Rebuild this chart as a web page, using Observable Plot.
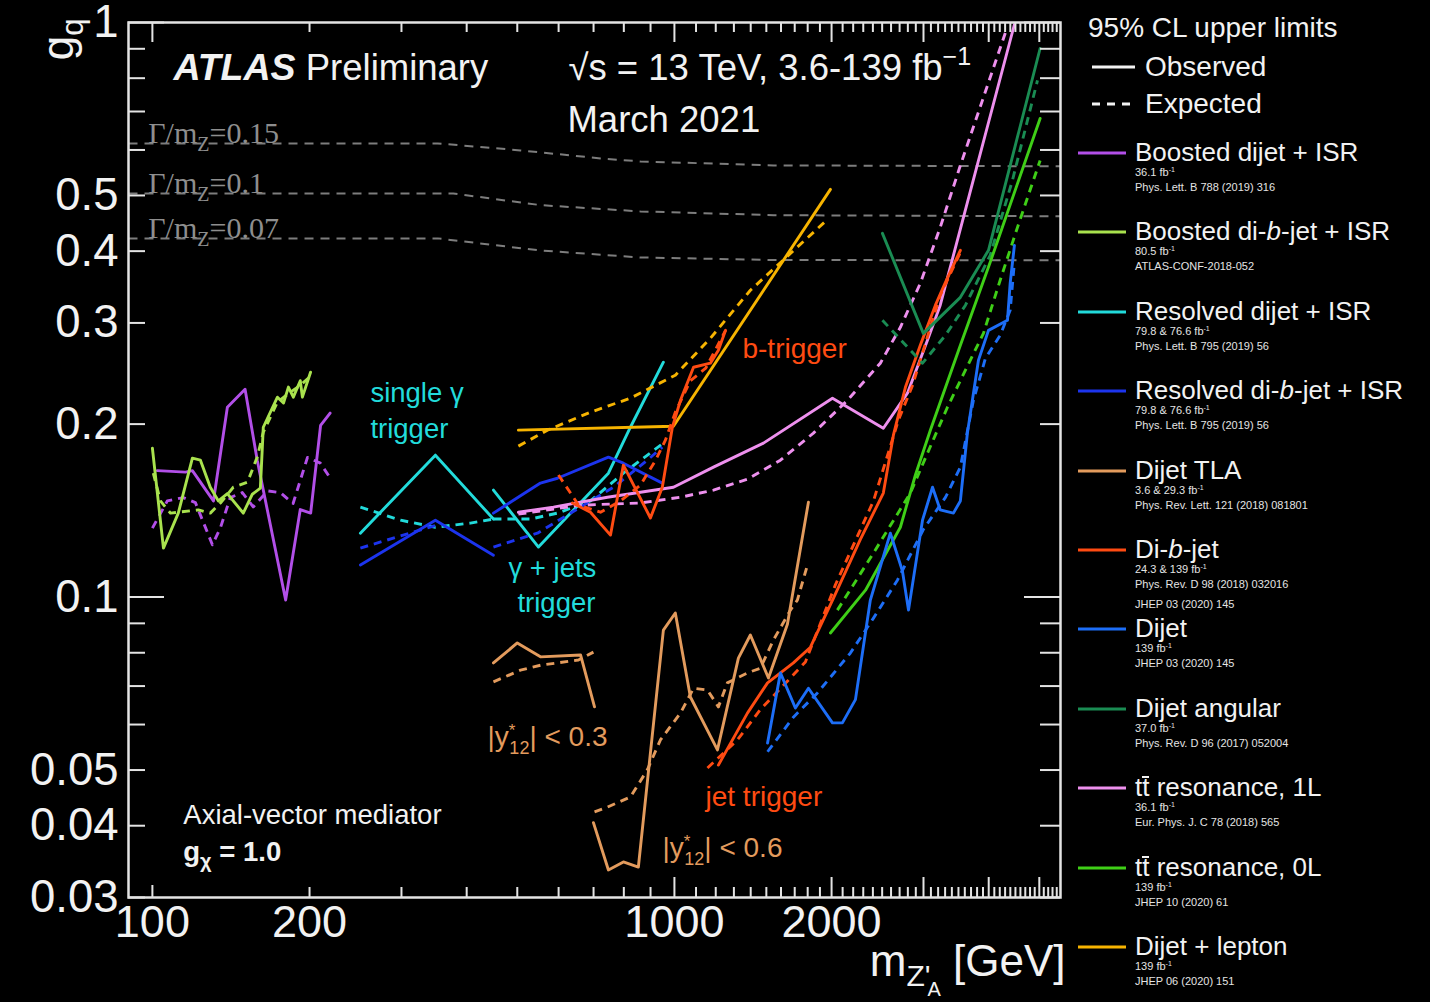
<!DOCTYPE html>
<html><head><meta charset="utf-8">
<script src="https://cdn.jsdelivr.net/npm/d3@7"></script>
<script src="https://cdn.jsdelivr.net/npm/@observablehq/plot@0.6"></script>
<style>
html,body{margin:0;padding:0;background:#000;}
#wrap{position:relative;width:1430px;height:1002px;background:#000;font-family:"Liberation Sans",Arial,Helvetica,sans-serif;color:#fff;overflow:hidden;}
#chart{position:absolute;left:0;top:0;}
#legend{position:absolute;left:1075px;top:0;width:355px;height:1002px;}
.hdr{position:absolute;font-size:28px;line-height:30px;white-space:nowrap;color:#f2f2f2;}
.ttl{position:absolute;left:60px;font-size:26px;line-height:26px;white-space:nowrap;color:#f2f2f2;}
.sub{position:absolute;left:60px;font-size:11px;line-height:12px;white-space:nowrap;color:#e4e4e4;}
.sp{font-size:7px;position:relative;top:-4px;}
.smp{position:absolute;left:3px;}
.ov{display:inline-block;border-top:2px solid #f2f2f2;line-height:19px;}
</style></head>
<body><div id="wrap"><div id="chart"></div><div id="legend"></div></div>
<script>
// ---------------- data: [m_Z' (GeV), g_q] ----------------
const boostedDijetObs = [[102.2,0.166],[115.7,0.165],[119.3,0.166],[130.9,0.147],[139.2,0.214],[150.5,0.230],[158.8,0.173],[180,0.0988],[192,0.142],[201,0.140],[210,0.199],[219,0.209]];
const boostedDijetExp = [[100,0.1318],[106.8,0.147],[114.6,0.149],[120.9,0.146],[130.3,0.1233],[135,0.132],[141,0.149],[148.7,0.152],[156,0.1435],[166.2,0.153],[175.9,0.152],[186,0.1455],[198.2,0.175],[209.8,0.171],[219.2,0.161]];

const boostedDibjetObs = [[100,0.1816],[105,0.1217],[112.1,0.140],[119.3,0.1745],[123.6,0.1731],[129.1,0.1553],[133.8,0.147],[139.2,0.1514],[149.3,0.140],[155.4,0.151],[161,0.1547],[163.1,0.1975],[173.6,0.2228],[178.3,0.2176],[182.2,0.232],[186.2,0.2228],[192,0.238],[193.8,0.2228],[200.9,0.2462]];
const boostedDibjetExp = [[100.4,0.1643],[103.6,0.147],[108.3,0.140],[122.5,0.1418],[129.1,0.140],[135,0.1458],[142.9,0.1553],[152.1,0.1585],[158.8,0.1752],[163.1,0.1936],[173.6,0.2184],[183.8,0.2273],[192,0.2337],[200.9,0.2423]];

const resolvedDijetObsPhoton = [[250.3,0.1292],[348.4,0.1766],[450.1,0.1367]];
const resolvedDijetObsGammaJets = [[450.1,0.1535],[549,0.1222],[747.4,0.1643],[823.6,0.1975],[952.5,0.2563]];
const resolvedDijetExpPhoton = [[250.3,0.1434],[298.7,0.1361],[348.4,0.1323],[406.6,0.1345],[450.1,0.1367]];
const resolvedDijetExpGammaJets = [[450.1,0.1367],[529.9,0.1367],[597,0.140],[690.5,0.147],[798.4,0.1643],[952.5,0.1853]];

const resolvedDibjetObsPhoton = [[250.3,0.1137],[348.4,0.1361],[450.1,0.1183]];
const resolvedDibjetObsGammaJets = [[450.1,0.140],[553.9,0.1579],[597,0.161],[747.4,0.1752],[798.4,0.171],[948,0.1579]];
const resolvedDibjetExpPhoton = [[250.3,0.1217],[356.2,0.134]];
const resolvedDibjetExpGammaJets = [[450.1,0.1222],[546.5,0.1292],[660.6,0.1434],[764.2,0.1553],[887.7,0.1731],[948,0.1824]];

const tlaObsY03 = [[450.1,0.0768],[500,0.0832],[553.9,0.0787],[661,0.0793],[703,0.0644]];
const tlaObsY06 = [[699.6,0.0405],[747.4,0.0335],[798.4,0.0346],[853,0.0339],[952.5,0.0876],[1004,0.0938],[1073,0.067],[1209,0.0542],[1326,0.0783],[1398,0.0859],[1514,0.0723],[1646,0.0897],[1806,0.1463]];
const tlaExpY03 = [[450.1,0.0712],[507,0.0746],[553.9,0.0761],[654.8,0.0777],[699.6,0.0802]];
const tlaExpY06 = [[703,0.0423],[744,0.0431],[824,0.0449],[888,0.0501],[940,0.0564],[1027,0.0628],[1088,0.0694],[1157,0.0689],[1214,0.0644],[1263,0.0709],[1380,0.0738],[1461,0.0752],[1548,0.0842],[1668,0.0949],[1720,0.0988],[1798,0.1137]];

const dibjetObsBTrig = [[637.8,0.1458],[690.5,0.1405],[754.3,0.1282],[798.4,0.1697],[899.6,0.1373],[948,0.1553],[991,0.1975],[1027,0.220],[1088,0.2512],[1172,0.2553],[1214,0.2689],[1253,0.2912]];
const dibjetObsJetTrig = [[1214,0.0510],[1380,0.0628],[1508,0.0709],[1690,0.0768],[1822,0.0818],[2017,0.0996],[2271,0.126],[2513,0.1517],[2627,0.1913],[2770,0.2318],[2958,0.2744],[3162,0.3221],[3305,0.353],[3530,0.4014]];
const dibjetExpBTrig = [[599.6,0.1631],[655.4,0.1445],[721.8,0.1405],[788,0.147],[860.7,0.1566],[920.4,0.1731],[961,0.1875],[1004,0.2098],[1073,0.238],[1148,0.2502],[1253,0.2912]];
const dibjetExpJetTrig = [[1157,0.0504],[1320,0.0564],[1461,0.0637],[1668,0.0723],[1782,0.0771],[2034,0.105],[2406,0.147],[2686,0.2033],[2858,0.2335],[3230,0.3351],[3530,0.3981]];

const dijetObs = [[1508,0.0557],[1596,0.0738],[1705,0.0641],[1806,0.0694],[2008,0.0604],[2098,0.0604],[2222,0.0663],[2373,0.0988],[2592,0.1292],[2734,0.111],[2808,0.0949],[2987,0.1361],[3122,0.1553],[3230,0.1418],[3423,0.140],[3530,0.147],[3641,0.1929],[3823,0.2583],[3996,0.2912],[4345,0.3032],[4397,0.3516],[4480,0.4094]];
const dijetExp = [[1508,0.0538],[1690,0.0618],[1879,0.0681],[2173,0.0799],[2406,0.0919],[2674,0.107],[2998,0.1311],[3305,0.1491],[3530,0.1683],[3739,0.22],[3943,0.2604],[4207,0.2855],[4397,0.3156],[4480,0.3825]];

const angularObs = [[2503,0.4296],[2998,0.2877],[3530,0.3324],[3996,0.4014],[5018,0.9011]];
const angularExp = [[2503,0.3032],[2987,0.2553],[3305,0.2855],[3610,0.3221],[4026,0.3934],[4441,0.531],[4960,0.793]];

const ttbar1LObs = [[502.5,0.1405],[586.5,0.1434],[744,0.1492],[995.6,0.1553],[1188,0.1683],[1481,0.1853],[2008,0.2219],[2513,0.1967],[2795,0.2264],[3053,0.28],[3230,0.3221],[4480,0.992]];
const ttbar1LExp = [[502.5,0.1394],[661,0.1445],[860.7,0.1458],[1027,0.1492],[1188,0.1535],[1380,0.1604],[1596,0.1731],[1846,0.1929],[2145,0.22],[2480,0.2553],[2709,0.2948],[2958,0.3516],[3230,0.44],[3530,0.564],[3891,0.732],[4307,0.961]];

const ttbar0LObs = [[1990,0.0866],[2323,0.1028],[2709,0.1323],[2895,0.1631],[3091,0.195],[3530,0.2744],[4026,0.3825],[5018,0.6808]];
const ttbar0LExp = [[2052,0.0949],[2406,0.1193],[2831,0.1517],[3053,0.178],[3334,0.214],[3687,0.2583],[3908,0.2877],[4207,0.356],[4541,0.44],[5018,0.5754]];

const leptonObs = [[502.5,0.1952],[995.6,0.1983],[1990,0.5124]];
const leptonExp = [[502.5,0.1831],[571,0.1952],[690.5,0.2098],[823.6,0.2219],[1004,0.2433],[1172,0.2822],[1398,0.342],[1955,0.4524]];

// Gamma/m_Z' reference lines
const width015 = [[90,0.616],[352,0.616],[507,0.599],[722,0.580],[861,0.573],[1548,0.564],[5490,0.562]];
const width010 = [[90,0.504],[377,0.504],[554,0.481],[861,0.469],[1548,0.462],[5490,0.460]];
const width007 = [[90,0.421],[352,0.421],[554,0.401],[861,0.390],[1548,0.386],[5490,0.3856]];
const widthLabels = ["Γ/mZ=0.15", "Γ/mZ=0.1", "Γ/mZ=0.07"];

// tick labels & tick positions
const xTickLabels = [100, 200, 1000, 2000];
const yTickLabels = [0.03, 0.04, 0.05, 0.1, 0.2, 0.3, 0.4, 0.5, 1];
const xTicksMinor = [100,200,300,400,500,600,700,800,900,1100,1200,1300,1400,1500,1600,1700,1800,1900,2100,2200,2300,2400,2500,2600,2700,2800,2900,3100,3200,3300,3400,3500,3600,3700,3800,3900,4100,4200,4300,4400,4500,4600,4700,4800,4900,5100,5200,5300,5400];
const xTicksMajor = [1000, 2000, 3000, 4000, 5000];
const yTicksMinor = [0.03,0.04,0.05,0.06,0.07,0.08,0.09,0.2,0.3,0.4,0.5,0.6,0.7,0.8,0.9];
const yTicksMajor = [0.1, 1];

// series metadata
const seriesNames = ["Boosted dijet + ISR","Boosted di-b-jet + ISR","Resolved dijet + ISR","Resolved di-b-jet + ISR","Dijet TLA","Di-b-jet","Dijet","Dijet angular","tt̄ resonance, 1L","tt̄ resonance, 0L","Dijet + lepton"];
const seriesColors = ["#b24fe8","#a9e24e","#22dbdb","#1c34ee","#e39b5d","#ff4b12","#1d6ef7","#1a8c53","#ee90ee","#3fcf17","#f7b400"];
const seriesLumi = ["36.1 fb","80.5 fb","79.8 & 76.6 fb","79.8 & 76.6 fb","3.6 & 29.3 fb","24.3 & 139 fb","139 fb","37.0 fb","36.1 fb","139 fb","139 fb"];
const seriesRefs = [["Phys. Lett. B 788 (2019) 316"],["ATLAS-CONF-2018-052"],["Phys. Lett. B 795 (2019) 56"],["Phys. Lett. B 795 (2019) 56"],["Phys. Rev. Lett. 121 (2018) 081801"],["Phys. Rev. D 98 (2018) 032016","JHEP 03 (2020) 145"],["JHEP 03 (2020) 145"],["Phys. Rev. D 96 (2017) 052004"],["Eur. Phys. J. C 78 (2018) 565"],["JHEP 10 (2020) 61"],["JHEP 06 (2020) 151"]];
const seriesObs = [[boostedDijetObs],[boostedDibjetObs],[resolvedDijetObsPhoton,resolvedDijetObsGammaJets],[resolvedDibjetObsPhoton,resolvedDibjetObsGammaJets],[tlaObsY03,tlaObsY06],[dibjetObsBTrig,dibjetObsJetTrig],[dijetObs],[angularObs],[ttbar1LObs],[ttbar0LObs],[leptonObs]];
const seriesExp = [[boostedDijetExp],[boostedDibjetExp],[resolvedDijetExpPhoton,resolvedDijetExpGammaJets],[resolvedDibjetExpPhoton,resolvedDibjetExpGammaJets],[tlaExpY03,tlaExpY06],[dibjetExpBTrig,dibjetExpJetTrig],[dijetExp],[angularExp],[ttbar1LExp],[ttbar0LExp],[leptonExp]];

// in-plot annotations (text, m, g)
const annAtlas = [["ATLAS Preliminary",109.7,0.832]];
const annHeader = [["√s = 13 TeV, 3.6-139 fb-1",626.6,0.832],["March 2021",623.9,0.6755]];
const annCyan = [["single γ",261.6,0.2264],["trigger",261.6,0.196],["γ + jets",480.9,0.1123],["trigger",500.4,0.0976]];
const annRed = [["b-trigger",1350,0.27],["jet trigger",1147,0.0449]];
const annTan = [["|y*12| < 0.3",438.4,0.0571],["|y*12| < 0.6",948.4,0.0366]];
const annModel = [["Axial-vector mediator",114.6,0.0418],["gχ = 1.0",114.6,0.036]];
const annWidth = [[widthLabels[0],98.2,0.616],[widthLabels[1],98.2,0.504],[widthLabels[2],98.2,0.421]];

// ---------------- build tables ----------------
const rows = [];
seriesNames.forEach((name, i) => {
  seriesObs[i].forEach((pts, j) => pts.forEach(([m, g]) => rows.push({s: i, kind: "obs", seg: `${i}o${j}`, m, g})));
  seriesExp[i].forEach((pts, j) => pts.forEach(([m, g]) => rows.push({s: i, kind: "exp", seg: `${i}e${j}`, m, g})));
});
const widthRows = [];
[width015, width010, width007].forEach((pts, j) => pts.forEach(([m, g]) => widthRows.push({seg: j, m, g})));
const toAnn = a => a.map(([text, m, g]) => ({text, m, g}));

const W = 1075, H = 1002, mL = 128, mR = 15, mT = 22, mB = 105;
const innerW = W - mL - mR, innerH = H - mT - mB;
const axisColor = "#e4e4e4";
const font = "'Liberation Sans', Arial, Helvetica, sans-serif";

const drawOrder = [4, 2, 3, 0, 1, 10, 8, 5, 7, 9, 6];
const curveMarks = [];
drawOrder.forEach(i => {
  curveMarks.push(Plot.line(rows.filter(r => r.s === i && r.kind === "exp"), {x: "m", y: "g", z: "seg", stroke: seriesColors[i], strokeWidth: 2.9, strokeDasharray: "8,6", strokeLinecap: "butt", clip: true}));
  curveMarks.push(Plot.line(rows.filter(r => r.s === i && r.kind === "obs"), {x: "m", y: "g", z: "seg", stroke: seriesColors[i], strokeWidth: 2.9, clip: true}));
});

const chart = Plot.plot({
  width: W, height: H, marginLeft: mL, marginRight: mR, marginTop: mT, marginBottom: mB,
  style: {background: "#000", color: "#fff", fontFamily: font, overflow: "visible"},
  x: {type: "log", domain: [90, 5490]},
  y: {type: "log", domain: [0.03, 1]},
  marks: [
    Plot.line(widthRows, {x: "m", y: "g", z: "seg", stroke: "#7d7d7d", strokeWidth: 2, strokeDasharray: "9,7", strokeLinecap: "butt"}),
    Plot.text(toAnn(annWidth), {x: "m", y: "g", text: "text", fill: "#8e8e8e", fontSize: 30, fontFamily: "'Liberation Serif', 'Times New Roman', serif", textAnchor: "start", lineAnchor: "bottom"}),
    ...curveMarks,
    Plot.text(toAnn(annAtlas), {x: "m", y: "g", text: "text", fill: "#f2f2f2", fontSize: 37.5, textAnchor: "start", lineAnchor: "middle"}),
    Plot.text(toAnn(annHeader), {x: "m", y: "g", text: "text", fill: "#f2f2f2", fontSize: 36.5, textAnchor: "start", lineAnchor: "middle"}),
    Plot.text(toAnn(annCyan), {x: "m", y: "g", text: "text", fill: "#22dbdb", fontSize: 27.5, textAnchor: "start", lineAnchor: "middle"}),
    Plot.text(toAnn(annRed), {x: "m", y: "g", text: "text", fill: "#ff4b12", fontSize: 28, textAnchor: "start", lineAnchor: "middle"}),
    Plot.text(toAnn(annTan), {x: "m", y: "g", text: "text", fill: "#e39b5d", fontSize: 28, textAnchor: "start", lineAnchor: "middle"}),
    Plot.text(toAnn(annModel), {x: "m", y: "g", text: "text", fill: "#f2f2f2", fontSize: 27.5, textAnchor: "start", lineAnchor: "middle"}),
    // ticks (inward, ROOT style)
    Plot.tickX(xTicksMinor.filter(d => d !== 100), {x: d => d, insetTop: innerH - 10, stroke: axisColor, strokeWidth: 2}),
    Plot.tickX([100], {x: d => d, insetTop: innerH - 12, stroke: axisColor, strokeWidth: 2}),
    Plot.tickX(xTicksMinor.filter(d => d !== 100), {x: d => d, insetBottom: innerH - 10, stroke: axisColor, strokeWidth: 2}),
    Plot.tickX([100], {x: d => d, insetBottom: innerH - 20, stroke: axisColor, strokeWidth: 2}),
    Plot.tickX(xTicksMajor, {x: d => d, insetTop: innerH - 20, stroke: axisColor, strokeWidth: 2}),
    Plot.tickX(xTicksMajor, {x: d => d, insetBottom: innerH - 20, stroke: axisColor, strokeWidth: 2}),
    Plot.tickY(yTicksMinor, {y: d => d, insetRight: innerW - 17, stroke: axisColor, strokeWidth: 2}),
    Plot.tickY(yTicksMinor, {y: d => d, insetLeft: innerW - 20, stroke: axisColor, strokeWidth: 2}),
    Plot.tickY(yTicksMajor, {y: d => d, insetRight: innerW - 36, stroke: axisColor, strokeWidth: 2}),
    Plot.tickY(yTicksMajor, {y: d => d, insetLeft: innerW - 36, stroke: axisColor, strokeWidth: 2}),
    Plot.frame({stroke: axisColor, strokeWidth: 2.5}),
    Plot.axisX({ticks: xTickLabels, tickFormat: d => String(d), tickSize: 0, tickPadding: 8, fontSize: 45, fill: "#f2f2f2", label: null}),
    Plot.axisY({ticks: yTickLabels, tickFormat: d => String(d), tickSize: 0, tickPadding: 10, fontSize: 45.5, fill: "#f2f2f2", label: null}),
    Plot.text(["mZ'A [GeV]"], {frameAnchor: "bottom-right", text: d => d, dx: 5, dy: 78, fontSize: 44, fill: "#f2f2f2", textAnchor: "end", lineAnchor: "bottom"}),
    Plot.text(["gq"], {frameAnchor: "top-left", text: d => d, dx: -56, dy: -4, rotate: -90, fontSize: 44, fill: "#f2f2f2", textAnchor: "end", lineAnchor: "bottom"})
  ]
});

// ---------------- rich text (sub/superscripts, mixed styles) ----------------
const rich = {
  "ATLAS Preliminary": [{t: "ATLAS", fw: "bold", fst: "italic"}, {t: " Preliminary", fs: 36.5}],
  "√s = 13 TeV, 3.6-139 fb-1": [{t: "√s = 13 TeV, 3.6-139 fb"}, {t: "−1", fs: 25, dy: -15}],
  "Γ/mZ=0.15": [{t: "Γ/m"}, {t: "Z", fs: 20, dy: 8}, {t: "=0.15", dy: -8}],
  "Γ/mZ=0.1": [{t: "Γ/m"}, {t: "Z", fs: 20, dy: 8}, {t: "=0.1", dy: -8}],
  "Γ/mZ=0.07": [{t: "Γ/m"}, {t: "Z", fs: 20, dy: 8}, {t: "=0.07", dy: -8}],
  "|y*12| < 0.3": [{t: "|y"}, {t: "*", fs: 17, dy: -10}, {t: "12", fs: 18, dx: -6, dy: 18}, {t: "| < 0.3", dy: -8}],
  "|y*12| < 0.6": [{t: "|y"}, {t: "*", fs: 17, dy: -10}, {t: "12", fs: 18, dx: -6, dy: 18}, {t: "| < 0.6", dy: -8}],
  "gχ = 1.0": [{t: "g", fw: "bold"}, {t: "χ", fs: 20, dy: 7, fw: "bold"}, {t: " = 1.0", fw: "bold", dy: -7}],
  "gq": [{t: "g"}, {t: "q", fs: 31, dy: 10}],
  "mZ'A [GeV]": [{t: "m"}, {t: "Z", fs: 30, dy: 10}, {t: "'", fs: 30}, {t: "A", fs: 20, dx: -3, dy: 10}, {t: " [GeV]", dy: -20}]
};
d3.select(chart).selectAll("text").each(function () {
  const key = this.textContent;
  const spec = rich[key];
  if (!spec) return;
  while (this.firstChild) this.removeChild(this.firstChild);
  spec.forEach(p => {
    const ts = document.createElementNS("http://www.w3.org/2000/svg", "tspan");
    ts.textContent = p.t;
    if (p.fs) ts.setAttribute("font-size", p.fs);
    if (p.fw) ts.setAttribute("font-weight", p.fw);
    if (p.fst) ts.setAttribute("font-style", p.fst);
    if (p.dy) ts.setAttribute("dy", p.dy);
    if (p.dx) ts.setAttribute("dx", p.dx);
    this.appendChild(ts);
  });
});
document.getElementById("chart").appendChild(chart);

// ---------------- legend (right side) ----------------
const fmtName = n => n.replace(/-b-/g, "-<i>b</i>-").replace("tt̄", "t<span class='ov'>t</span>");
const sample = (color, dashed, w) => `<svg width="${w}" height="6" style="display:block"><line x1="0" x2="${w}" y1="3" y2="3" stroke="${color}" stroke-width="3" ${dashed ? 'stroke-dasharray="8,7"' : ""}/></svg>`;
let html = "";
html += `<div class="hdr" style="left:13px;top:13px">95% CL upper limits</div>`;
html += `<div class="smp" style="left:17px;top:64px">${sample("#f2f2f2", false, 43)}</div><div class="hdr" style="left:70px;top:52px">Observed</div>`;
html += `<div class="smp" style="left:17px;top:101px">${sample("#f2f2f2", true, 40)}</div><div class="hdr" style="left:70px;top:89px">Expected</div>`;
seriesNames.forEach((name, i) => {
  const c = 153 + i * 79.4;
  html += `<div class="smp" style="top:${c - 3}px">${sample(seriesColors[i], false, 48)}</div>`;
  html += `<div class="ttl" style="top:${c - 14}px">${fmtName(name)}</div>`;
  html += `<div class="sub" style="top:${c + 13}px">${seriesLumi[i]}<span class="sp">-1</span></div>`;
  seriesRefs[i].forEach((r, k) => {
    html += `<div class="sub" style="top:${c + 28 + k * 20}px">${r}</div>`;
  });
});
document.getElementById("legend").innerHTML = html;
</script></body></html>
